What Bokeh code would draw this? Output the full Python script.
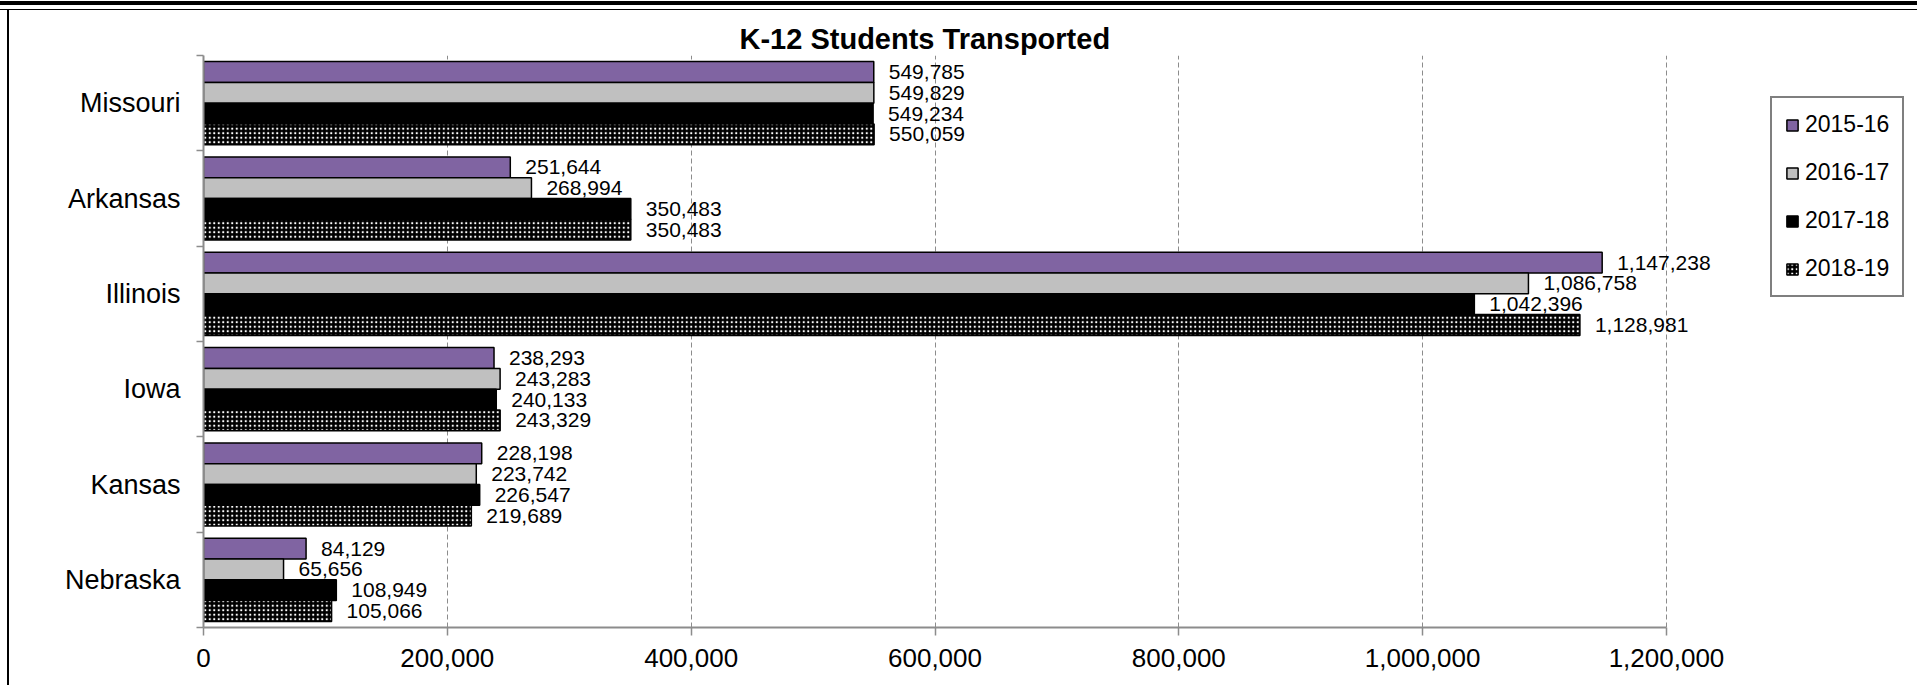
from bokeh.plotting import figure
from bokeh.models import (Range1d, FixedTicker, NumeralTickFormatter, Legend, LegendItem,
                          ColumnDataSource, Title, LabelSet)
from bokeh.embed import file_html
from bokeh.resources import INLINE
from bokeh.core.properties import value

states = ["Missouri", "Arkansas", "Illinois", "Iowa", "Kansas", "Nebraska"]
years = ["2015-16", "2016-17", "2017-18", "2018-19"]
v_2015_16 = [549785, 251644, 1147238, 238293, 228198, 84129]
v_2016_17 = [549829, 268994, 1086758, 243283, 223742, 65656]
v_2017_18 = [549234, 350483, 1042396, 240133, 226547, 108949]
v_2018_19 = [550059, 350483, 1128981, 243329, 219689, 105066]
x_ticks = [0, 200000, 400000, 600000, 800000, 1000000, 1200000]

series = [v_2015_16, v_2016_17, v_2017_18, v_2018_19]
styles = [
    dict(fill_color="#8064A2"),
    dict(fill_color="#C0C0C0"),
    dict(fill_color="#000000"),
    dict(fill_color="#000000", hatch_pattern="dot", hatch_color="white", hatch_scale=4.5, hatch_weight=2.5),
]

FONT = "Liberation Sans"
n = len(states)
bar_h = 0.218

# layout: frame from x=203; axis spans 0..1.2M over 1463 px
W, H = 1917, 685
left, right, top, bottom = 203, 0, 55, 58
frame_w = W - left - right
px_per_unit = (1666 - 203) / x_ticks[-1]
x_end = frame_w / px_per_unit

p = figure(width=W, height=H, output_backend="svg", toolbar_location=None,
           x_range=Range1d(0, x_end), y_range=Range1d(0, n),
           min_border_left=left, min_border_right=right, min_border_top=top, min_border_bottom=bottom)
p.outline_line_color = None
p.background_fill_color = "white"
p.border_fill_alpha = 0
p.styles = {
    "background-color": "white",
    "background-image": ("linear-gradient(#000, #000), linear-gradient(#000, #000), "
                         "linear-gradient(to right, transparent 7px, #000 7px, #000 9px, transparent 9px)"),
    "background-position": "0px 1px, 0px 9px, 0px 9px",
    "background-size": "100% 4px, 100% 1px, 100% 100%",
    "background-repeat": "no-repeat, no-repeat, no-repeat",
}

p.title = Title(text="K-12 Students Transported", align="left", offset=536,
                text_font=FONT, text_font_size="29px", text_font_style="bold",
                text_color="black", standoff=2)

centers = [n - i - 0.5 for i in range(n)]
items = []
for k, (vals, st) in enumerate(zip(series, styles)):
    ys = [c + (1.5 - k) * bar_h for c in centers]
    src = ColumnDataSource(dict(y=ys, x=vals, lab=[f"{v:,}" for v in vals]))
    r = p.hbar(y="y", right="x", left=0, height=bar_h, source=src,
               line_color="black", line_width=1.5, **st)
    labels = LabelSet(x="x", y="y", text="lab", source=src, x_offset=15,
                      text_font=value(FONT), text_font_size=value("21px"), text_color="black",
                      text_align="left", text_baseline="middle")
    p.add_layout(labels)
    items.append(LegendItem(label=years[k], renderers=[r]))

legend = Legend(items=items, location=(1567, 330), orientation="vertical",
                label_text_font=FONT, label_text_font_size="23px", label_text_color="black",
                glyph_width=14, glyph_height=14, label_standoff=6, spacing=21,
                padding=13, margin=0, border_line_color="black", border_line_width=2,
                background_fill_alpha=1.0)
p.add_layout(legend, "center")

# x axis
p.xaxis.ticker = FixedTicker(ticks=x_ticks)
p.xaxis.bounds = (0, x_ticks[-1])
p.xaxis.formatter = NumeralTickFormatter(format="0,0")
p.xaxis.major_label_text_font = FONT
p.xaxis.major_label_text_font_size = "26px"
p.xaxis.major_label_text_color = "black"
p.xaxis.major_label_standoff = 13
p.xaxis.major_tick_out = 8
p.xaxis.major_tick_in = 0
p.xaxis.minor_tick_out = 0
p.xaxis.minor_tick_in = 0
p.xaxis.axis_line_color = "#8C8C8C"
p.xaxis.axis_line_width = 2
p.xaxis.major_tick_line_color = "#8C8C8C"
p.xaxis.major_tick_line_width = 1.5

# y axis (categories, ticks at boundaries)
p.yaxis.ticker = FixedTicker(ticks=centers, minor_ticks=list(range(n + 1)))
p.yaxis.major_label_overrides = {c: s for c, s in zip(centers, states)}
p.yaxis.major_label_text_font = FONT
p.yaxis.major_label_text_font_size = "27px"
p.yaxis.major_label_text_color = "black"
p.yaxis.major_label_standoff = 16
p.yaxis.major_tick_out = 0
p.yaxis.major_tick_in = 0
p.yaxis.minor_tick_out = 7
p.yaxis.minor_tick_in = 0
p.yaxis.minor_tick_line_color = "#8C8C8C"
p.yaxis.minor_tick_line_width = 1.5
p.yaxis.axis_line_color = "#8C8C8C"
p.yaxis.axis_line_width = 2

p.xgrid.grid_line_color = "#8C8C8C"
p.xgrid.grid_line_dash = "5 3"
p.xgrid.grid_line_width = 1
p.ygrid.grid_line_color = None

open("out.html", "w").write(file_html(p, INLINE))
